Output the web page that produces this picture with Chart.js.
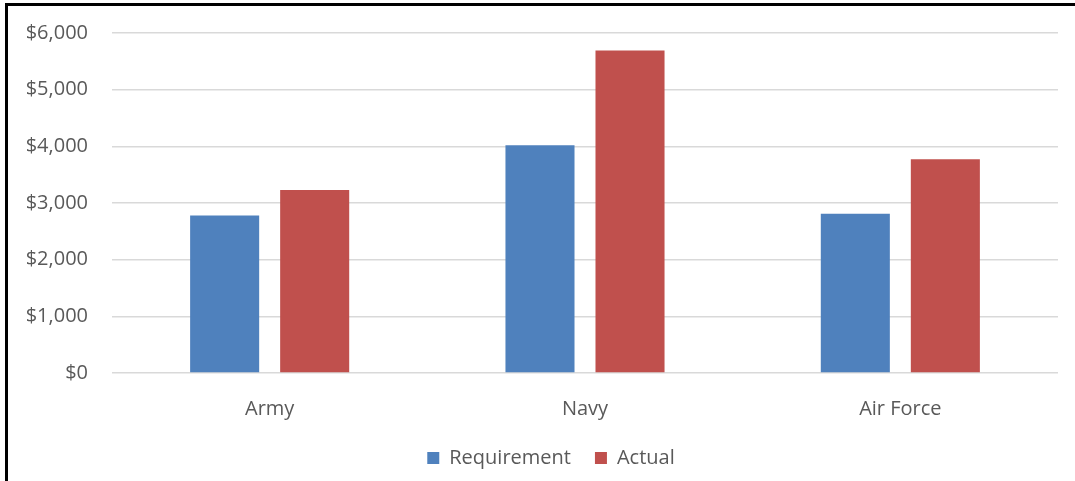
<!DOCTYPE html>
<html>
<head>
<meta charset="utf-8">
<script src="https://cdn.jsdelivr.net/npm/chart.js@4"></script>
<style>
  html, body { margin: 0; padding: 0; background: #fff; }
  #wrap { position: relative; width: 1075px; height: 481px; overflow: hidden; }
  #frame {
    position: absolute; left: 5px; top: 3px; width: 1080px; height: 490px;
    border-left: 3px solid #000; border-top: 3px solid #000; pointer-events: none;
  }
  canvas { position: absolute; left: 0; top: 0; }
</style>
</head>
<body>
<div id="wrap">
  <canvas id="budgetChart" width="1075" height="481"></canvas>
  <div id="frame"></div>
</div>
<script>
const branches = ["Army", "Navy", "Air Force"];
const requirement = [2780, 4020, 2810];
const actual = [3230, 5690, 3770];
const yTicks = [0, 1000, 2000, 3000, 4000, 5000, 6000];

const textColor = "#595959";
const font = { family: "'Open Sans', sans-serif", size: 20 };

// legend sits a little right of the canvas centre
const shiftLegend = {
  id: "shiftLegend",
  afterLayout(chart) { chart.legend.left += 44; }
};

new Chart(document.getElementById("budgetChart"), {
  type: "bar",
  data: {
    labels: branches,
    datasets: [
      {
        label: "Requirement",
        data: requirement,
        backgroundColor: "#4F81BD",
        categoryPercentage: 0.571,
        barPercentage: 0.767
      },
      {
        label: "Actual",
        data: actual,
        backgroundColor: "#C0504D",
        categoryPercentage: 0.571,
        barPercentage: 0.767
      }
    ]
  },
  options: {
    responsive: false,
    devicePixelRatio: 1,
    animation: false,
    layout: { padding: { top: 33, right: 17, bottom: 3, left: 0 } },
    plugins: {
      tooltip: { enabled: false },
      legend: {
        position: "bottom",
        labels: {
          color: textColor,
          font: font,
          boxWidth: 12,
          boxHeight: 12,
          padding: 24
        }
      }
    },
    scales: {
      x: {
        grid: { display: false },
        border: { display: false },
        ticks: { color: textColor, font: font, padding: 16 },
        afterFit: s => { s.height = 51; }
      },
      y: {
        min: yTicks[0],
        max: yTicks[yTicks.length - 1],
        afterBuildTicks: s => { s.ticks = yTicks.map(v => ({ value: v })); },
        grid: { color: "#D9D9D9", lineWidth: 1.5, drawTicks: false },
        border: { display: false },
        ticks: {
          color: textColor,
          font: font,
          padding: 24,
          callback: v => "$" + v.toLocaleString("en-US")
        },
        afterFit: s => { s.width = 112; s.paddingTop = 0; s.paddingBottom = 0; }
      }
    }
  },
  plugins: [shiftLegend]
});
</script>
</body>
</html>
